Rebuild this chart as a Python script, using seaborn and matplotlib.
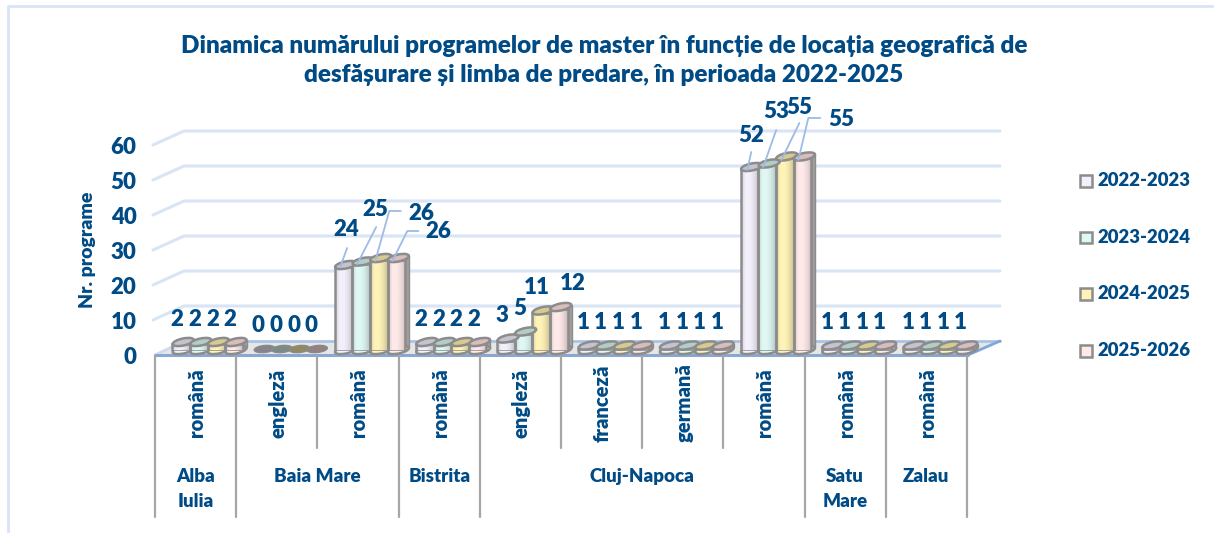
import pandas as pd
import numpy as np
import matplotlib.pyplot as plt
import seaborn as sns
from matplotlib.colors import LinearSegmentedColormap, to_rgb
from matplotlib.lines import Line2D
from matplotlib.patches import Ellipse, Polygon, Rectangle
from matplotlib.transforms import IdentityTransform, ScaledTranslation

# =======================
# Data
# =======================
locations = ["Alba Iulia", "Baia Mare", "Baia Mare", "Bistrita", "Cluj-Napoca",
             "Cluj-Napoca", "Cluj-Napoca", "Cluj-Napoca", "Satu Mare", "Zalau"]
languages = ["română", "engleză", "română", "română", "engleză",
             "franceză", "germană", "română", "română", "română"]
v_2022 = [2, 0, 24, 2, 3, 1, 1, 52, 1, 1]
v_2023 = [2, 0, 25, 2, 5, 1, 1, 53, 1, 1]
v_2024 = [2, 0, 26, 2, 11, 1, 1, 55, 1, 1]
v_2025 = [2, 0, 26, 2, 12, 1, 1, 55, 1, 1]
years = ["2022-2023", "2023-2024", "2024-2025", "2025-2026"]
group_labels = ["Alba\nIulia", "Baia Mare", "Bistrita", "Cluj-Napoca", "Satu\nMare", "Zalau"]
y_ticks = [0, 10, 20, 30, 40, 50, 60]

title = ("Dinamica numărului programelor de master în funcție de locația geografică de\n"
         "desfășurare și limba de predare, în perioada 2022-2025")

# =======================
# Style
# =======================
W, H = 1214, 533
NAVY = "#004b85"
GRID = "#d9e4f4"
EDGE = "#8c8c8c"
WEIGHT = "heavy"
colors = ["#f3f0fb", "#e0f8f4", "#fff3b8", "#ffe9e9"]
top_colors = ["#c5c3cf", "#b3cdc6", "#d6ca8e", "#d9bdbd"]

sns.set_theme(style="white")
plt.rcParams["font.family"] = ["Lato", "Open Sans", "DejaVu Sans"]

fig = plt.figure(figsize=(W / 100, H / 100), dpi=100, facecolor="white")

# background layer in picture pixels: frame, wall, floor, category table
bg = fig.add_axes([0, 0, 1, 1], zorder=0)
bg.set_xlim(0, W)
bg.set_ylim(H, 0)
bg.axis("off")

bg.plot([8, 8, W], [H, 6, 6], color=GRID, lw=2)
for tick in y_ticks[1:]:
    gy = 341 - tick * 3.5
    bg.plot([153, 184, 1000], [gy + 14, gy, gy], color=GRID, lw=2.2, solid_capstyle="round")

bg.add_patch(Polygon([(155, 355), (968, 355), (1000, 341), (184, 341)],
                     closed=True, facecolor="#e6e6e6", edgecolor="none"))
bg.plot([184, 1000], [341, 341], color="#a9c3e6", lw=2)
bg.plot([155, 184], [355, 341], color="#cfdcf0", lw=2)
bg.plot([968, 1000], [355, 341], color="#7fa6d8", lw=2)
bg.plot([155, 968], [355, 355], color="#8aa8cf", lw=2.2)

step = 81.2
n = len(languages)
for i in range(n + 1):
    same_group = 0 < i < n and locations[i - 1] == locations[i]
    bg.plot([155 + i * step] * 2, [356, 448 if same_group else 517], color="#a6a6a6", lw=1.6)

for i, lang in enumerate(languages):
    bg.text(155 + (i + 0.5) * step + 1, 403, lang, rotation=90, ha="center", va="center",
            fontsize=14.5, fontweight=WEIGHT, color=NAVY)

names = list(dict.fromkeys(locations))
for name, label in zip(names, group_labels):
    idx = [i for i, loc in enumerate(locations) if loc == name]
    cx = 155 + (idx[0] + idx[-1] + 1) / 2 * step
    bg.text(cx, 468, label, ha="center", va="top", fontsize=13.5, fontweight=WEIGHT,
            color=NAVY, linespacing=1.6)

bg.text(604, 60.5, title, ha="center", va="center", fontsize=17.5, fontweight=WEIGHT,
        color=NAVY, linespacing=1.42)
bg.text(87, 250, "Nr. programe", rotation=90, ha="center", va="center",
        fontsize=14, fontweight=WEIGHT, color=NAVY)

# =======================
# Bars
# =======================
df = pd.DataFrame({
    "cat": [f"{a} {b}" for a, b in zip(locations, languages)] * 4,
    "year": np.repeat(years, n),
    "value": v_2022 + v_2023 + v_2024 + v_2025,
})

ax = fig.add_axes([167 / W, 1 - 351 / H, step * n / W, 210 / H], zorder=1)
ax.patch.set_alpha(0)
sns.barplot(data=df, x="cat", y="value", hue="year", hue_order=years, palette=colors,
            width=0.865, gap=0, edgecolor=EDGE, linewidth=1.8, saturation=1, ax=ax)
ax.set_xlim(-0.5, n - 0.5)
ax.set_ylim(0, 60)
ax.set_xticks([])
ax.set_xlabel("")
ax.set_ylabel("")
ax.set_yticks(y_ticks)
ax.tick_params(axis="y", length=0, pad=22)
for lab in ax.get_yticklabels():
    lab.set_fontsize(16)
    lab.set_fontweight(WEIGHT)
    lab.set_color(NAVY)
    lab.set_transform(lab.get_transform() + ScaledTranslation(0, -3 / 72, fig.dpi_scale_trans))
sns.despine(ax=ax, left=True, bottom=True)

sns.move_legend(ax, "upper left", bbox_to_anchor=(1080 / W, 1 - 172 / H),
                bbox_transform=fig.transFigure, frameon=False, title=None,
                labelspacing=2.6, handlelength=0.8, handleheight=0.8,
                handletextpad=0.35, borderpad=0, borderaxespad=0)
leg = ax.get_legend()
for txt in leg.get_texts():
    txt.set_fontsize(13.3)
    txt.set_fontweight(WEIGHT)
    txt.set_color(NAVY)
for handle in leg.get_patches():
    handle.set_edgecolor(EDGE)
    handle.set_linewidth(1.8)

# label offsets from the top of a bar, picture pixels: (cat, series) -> (dx, dy, leader)
label_spots = {
    (2, 0): (2.5, 37, [(3.5, 19), (-3.5, 0)]),
    (2, 1): (14, 53.5, [(15, 36.5), (-4, -0.5)]),
    (2, 2): (42.5, 47, [(22, 49), (10.5, 49), (-3.5, -1)]),
    (2, 3): (42, 28, [(22, 29), (11, 29), (-4, -1)]),
    (7, 0): (1.6, 34, [(1.6, 17), (-2.4, -1)]),
    (7, 1): (9, 53.5, [(9, 35.5), (-4, -1.5)]),
    (7, 2): (14.6, 51.5, [(14.6, 35.5), (-3.4, -1.5)]),
    (7, 3): (39, 38.5, [(18, 40.5), (6, 40.5), (-4, -1.5)]),
    (4, 3): (14.3, 26, None),
}

ident = IdentityTransform()
for s, container in enumerate(ax.containers):
    rgb = np.array(to_rgb(colors[s]))
    cmap = LinearSegmentedColormap.from_list(
        f"cyl{s}", [rgb * 0.86, rgb, rgb, rgb * 0.93, rgb * 0.8])
    for c, bar in enumerate(container):
        value = bar.get_height()
        x0, x1 = bar.get_x(), bar.get_x() + bar.get_width()
        (px0, pb), (px1, pt) = ax.transData.transform([(x0, 0), (x1, value)])
        pcx = (px0 + px1) / 2
        pw = px1 - px0

        if value > 0:
            # cylinder body: back shadow, bottom rim, shaded front
            ax.add_artist(Rectangle((px0 + 4, pb + 4), pw, pt - pb, transform=ident,
                                    facecolor="#a39e9e", edgecolor=EDGE, lw=1,
                                    zorder=1.5, clip_on=False))
            ax.add_artist(Ellipse((pcx + 2, pb + 1), pw + 4, 7, angle=12, transform=ident,
                                  facecolor=colors[s], edgecolor=EDGE, lw=1.8,
                                  zorder=1.7, clip_on=False))
            im = ax.imshow(np.linspace(0, 1, 40).reshape(1, -1), cmap=cmap, aspect="auto",
                           extent=(x0, x1, 0, value), zorder=2)
            im.set_clip_path(bar)
            bar.set_facecolor("none")
            bar.set_zorder(3)
            ax.add_artist(Ellipse((pcx + 2, pt + 2), pw + 4, 7, angle=12, transform=ident,
                                  facecolor=top_colors[s], edgecolor=EDGE, lw=1.8,
                                  zorder=3.5, clip_on=False))
        else:
            bar.set_visible(False)
            ax.add_artist(Ellipse((pcx + 2, pb + 2), pw + 3, 7, angle=6, transform=ident,
                                  facecolor=np.array(to_rgb(top_colors[s])) * 0.68,
                                  edgecolor="#8a8a8a", lw=1, zorder=3.5, clip_on=False))

        dx, dy, leader = label_spots.get((c, s), (-4, 25, None))
        ax.text(pcx + dx, pt + dy, f"{value:.0f}", transform=ident, ha="center", va="center",
                fontsize=16, fontweight=WEIGHT, color=NAVY, zorder=6, clip_on=False)
        if leader:
            ax.add_artist(Line2D([pcx + p[0] for p in leader], [pt + p[1] for p in leader],
                                 transform=ident, color="#9dbbe6", lw=1.3, zorder=5,
                                 clip_on=False))

ax.set_xlim(-0.5, n - 0.5)
ax.set_ylim(0, 60)

plt.savefig("out.png", dpi=100)
